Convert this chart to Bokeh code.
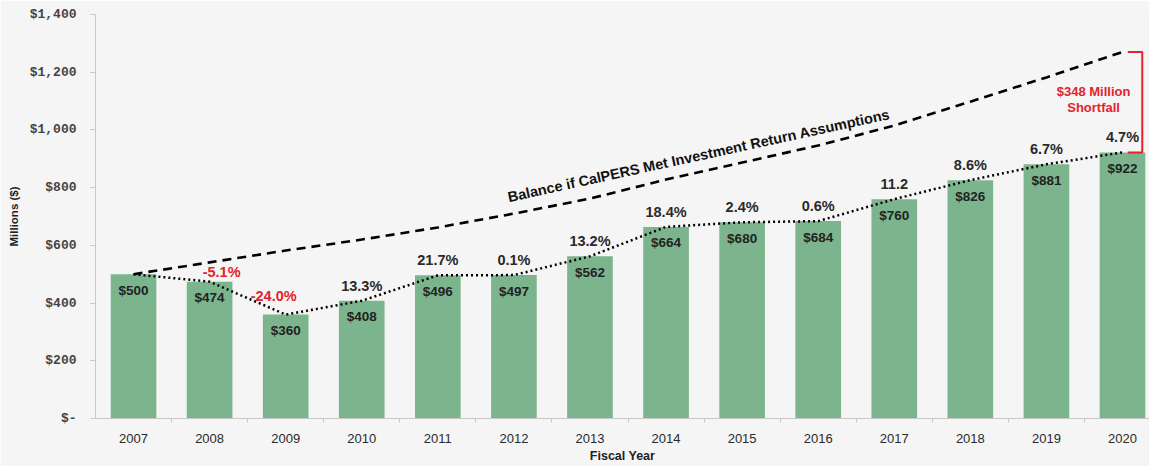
from bokeh.plotting import figure
from bokeh.models import Range1d, FixedTicker, Label
from bokeh.core.properties import value
from bokeh.embed import file_html
from bokeh.resources import INLINE

# ---- data ----
years = [2007, 2008, 2009, 2010, 2011, 2012, 2013, 2014, 2015, 2016, 2017, 2018, 2019, 2020]
balances = [500, 474, 360, 408, 496, 497, 562, 664, 680, 684, 760, 826, 881, 922]
assumed_balances = [500, 541, 582, 620, 662, 710, 762, 828, 887, 946, 1015, 1098, 1182, 1270]
return_labels = ["", "-5.1%", "-24.0%", "13.3%", "21.7%", "0.1%", "13.2%", "18.4%",
                 "2.4%", "0.6%", "11.2", "8.6%", "6.7%", "4.7%"]
value_labels = ["$500", "$474", "$360", "$408", "$496", "$497", "$562", "$664",
                "$680", "$684", "$760", "$826", "$881", "$922"]
y_ticks = [0, 200, 400, 600, 800, 1000, 1200, 1400]
y_tick_labels = ["$-", "$200", "$400", "$600", "$800", "$1,000", "$1,200", "$1,400"]
shortfall_lines = ["$348 Million", "Shortfall"]
assumption_label = "Balance if CalPERS Met Investment Return Assumptions"

BG = "#f5f5f5"
GREEN = "#7cb58d"
RED = "#e3232b"
SANS = "Liberation Sans"

p = figure(width=1149, height=466, output_backend="svg", toolbar_location=None,
           x_range=Range1d(2006.5, 2020.355), y_range=Range1d(0, 1400),
           min_border_left=95, min_border_right=0, min_border_top=14, min_border_bottom=48)
p.background_fill_color = BG
p.border_fill_color = BG
p.outline_line_color = None
p.xgrid.grid_line_color = None
p.ygrid.grid_line_color = None

# bars
p.vbar(x=years, top=balances, width=0.6, bottom=0, fill_color=GREEN, line_color=None)

# lines
p.line(years, assumed_balances, line_color="black", line_width=2.6, line_dash="9 6")
p.line(years, balances, line_color="black", line_width=2.5, line_dash="2 3")

# bracket for shortfall
xb0 = years[-1] + 0.07
xb1 = years[-1] + 0.26
p.line([xb0, xb1, xb1, xb0],
       [assumed_balances[-1], assumed_balances[-1], balances[-1], balances[-1]],
       line_color=RED, line_width=2)

# value labels inside bars
p.text(x=years, y=balances, text=value_labels, text_align="center", text_baseline="middle",
       y_offset=16, text_font=value(SANS), text_font_size="13.5px", text_font_style="bold",
       text_color="#222222")

# return labels
pos_idx = [i for i, t in enumerate(return_labels) if t and not t.startswith("-")]
p.text(x=[years[i] for i in pos_idx], y=[balances[i] for i in pos_idx],
       text=[return_labels[i] for i in pos_idx], text_align="center", text_baseline="middle",
       y_offset=-15, text_font=value(SANS), text_font_size="14.5px", text_font_style="bold",
       text_color="#2a2a2a")

neg_offsets = {2008: (12, -10), 2009: (-12, -19)}
for i, t in enumerate(return_labels):
    if t.startswith("-"):
        dx, dy = neg_offsets.get(years[i], (0, -15))
        p.text(x=[years[i]], y=[balances[i]], text=[t], text_align="center",
               text_baseline="middle", x_offset=dx, y_offset=dy, text_font=value(SANS),
               text_font_size="14.5px", text_font_style="bold", text_color=RED)

# shortfall text
p.text(x=[years[-1] - 0.38] * 2, y=[1133, 1078], text=shortfall_lines, text_align="center",
       text_baseline="middle", text_font=value(SANS), text_font_size="13px",
       text_font_style="bold", text_color=RED)

# rotated line label
p.add_layout(Label(x=2014.43, y=911, text=assumption_label, angle=0.215, text_align="center",
                   text_baseline="middle", text_font=SANS, text_font_size="14.5px",
                   text_font_style="bold", text_color="#111111"))

# axes
p.xaxis.ticker = FixedTicker(ticks=years, minor_ticks=[y + 0.5 for y in years[:-1]])
p.xaxis.major_tick_line_color = None
p.xaxis.major_tick_out = 0
p.xaxis.major_tick_in = 0
p.xaxis.minor_tick_line_color = "#c8c8c8"
p.xaxis.minor_tick_out = 4
p.xaxis.minor_tick_in = 0
p.xaxis.axis_line_color = "#c8c8c8"
p.xaxis.major_label_standoff = 11
p.xaxis.major_label_text_font = SANS
p.xaxis.major_label_text_font_size = "13px"
p.xaxis.major_label_text_color = "#2a2a2a"
p.xaxis.axis_label = "Fiscal Year"
p.xaxis.axis_label_text_font = SANS
p.xaxis.axis_label_text_font_size = "12.5px"
p.xaxis.axis_label_text_font_style = "bold"
p.xaxis.axis_label_text_color = "#222222"
p.xaxis.axis_label_standoff = 3

p.yaxis.ticker = FixedTicker(ticks=y_ticks, minor_ticks=[])
p.yaxis.major_label_overrides = {t: l for t, l in zip(y_ticks, y_tick_labels)}
p.yaxis.axis_line_color = "#c8c8c8"
p.yaxis.major_tick_line_color = "#c8c8c8"
p.yaxis.major_tick_out = 5
p.yaxis.major_tick_in = 0
p.yaxis.minor_tick_line_color = None
p.yaxis.major_label_standoff = 14
p.yaxis.major_label_text_font = "Liberation Mono"
p.yaxis.major_label_text_font_size = "13px"
p.yaxis.major_label_text_font_style = "bold"
p.yaxis.major_label_text_color = "#444444"
p.yaxis.axis_label = "Millions ($)"
p.yaxis.axis_label_text_font = SANS
p.yaxis.axis_label_text_font_size = "11.5px"
p.yaxis.axis_label_text_font_style = "bold"
p.yaxis.axis_label_text_color = "#222222"
p.yaxis.axis_label_standoff = 7

open("out.html", "w").write(file_html(p, INLINE))
